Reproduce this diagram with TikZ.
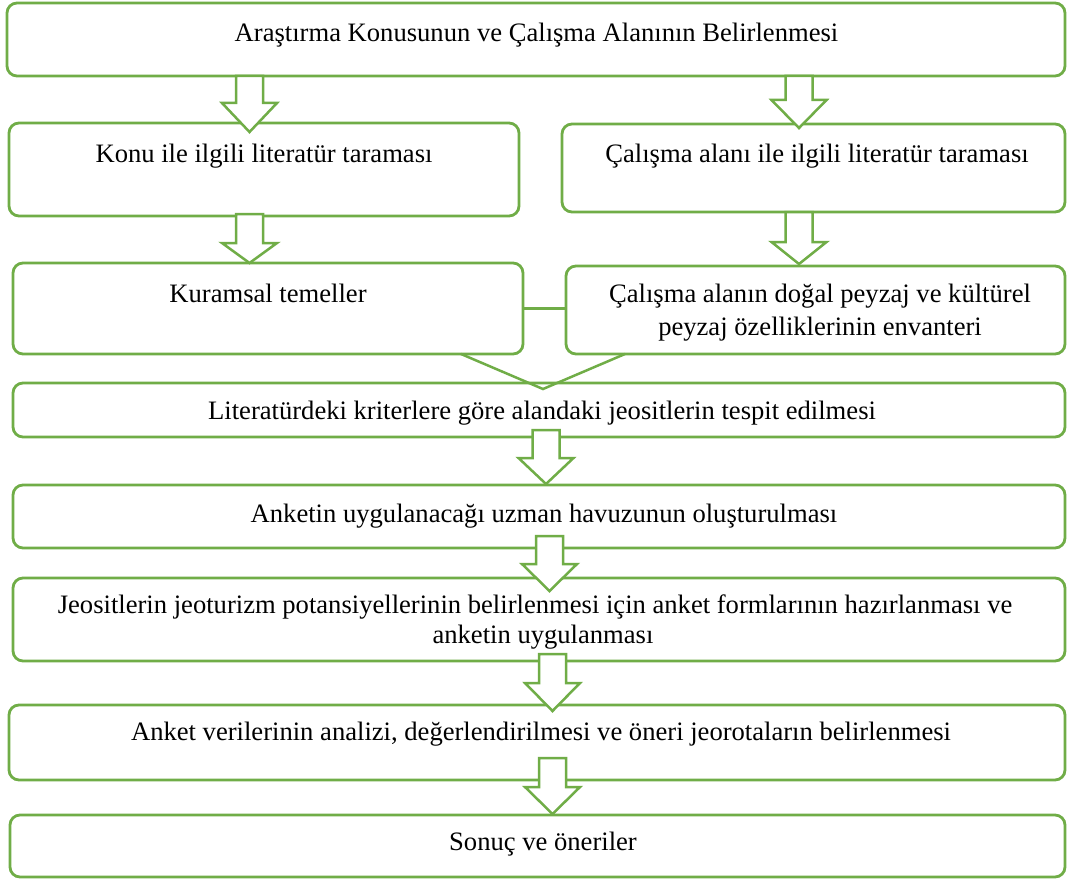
\documentclass[tikz,border=0pt]{standalone}
\usepackage{fontspec}
\setmainfont{Liberation Serif}
\usetikzlibrary{calc}
\definecolor{grn}{HTML}{70AD47}
\tikzset{
  box/.style={draw=grn, line width=2.8pt, rounded corners=10pt, fill=white, inner sep=0pt, outer sep=0pt},
  txt/.style={font=\fontsize{26.6}{33}\selectfont, anchor=base, inner sep=0pt},
  blk/.style={draw=grn, line width=2.5pt, fill=white, line join=miter},
  lnk/.style={draw=grn, line width=2.5pt},
}
\newcommand\blkarrow[4]{%
  \draw[blk] (#1-13.5,#2) -- (#1+13.5,#2) -- (#1+13.5,#3) -- (#1+27.5,#3)
    -- (#1,#4) -- (#1-27.5,#3) -- (#1-13.5,#3) -- cycle;}
\begin{document}
\begin{tikzpicture}[x=1pt,y=-1pt]
\useasboundingbox (0,0) rectangle (1068,880);
\fill[white] (0,0) rectangle (1068,880);
% boxes
\node[box, minimum width=1058, minimum height=73] (b1) at (536,39.5) {};
\node[box, minimum width=510, minimum height=93] (b2l) at (264,169.5) {};
\node[box, minimum width=503, minimum height=88] (b2r) at (813.5,168) {};
\node[box, minimum width=510, minimum height=91] (b3l) at (268,308.5) {};
\node[box, minimum width=499, minimum height=88] (b3r) at (815.5,310) {};
\node[box, minimum width=1052, minimum height=54] (b4) at (539,410) {};
\node[box, minimum width=1052, minimum height=63] (b5) at (539,516.5) {};
\node[box, minimum width=1052, minimum height=83] (b6) at (539,619.5) {};
\node[box, minimum width=1056, minimum height=75] (b7) at (537,742.5) {};
\node[box, minimum width=1055, minimum height=62] (b8) at (537.5,846) {};
% connectors
\draw[lnk] (b3l.east) -- (b3l.east -| b3r.west);
\coordinate (v1) at (461,354);
\coordinate (v2) at (625,354);
\coordinate (vt) at (543,389);
\draw[lnk, line join=miter] (v1) -- (vt) -- (v2);
% block arrows
\blkarrow{249.5}{76}{103}{132}
\blkarrow{799}{76}{100}{128}
\blkarrow{249.5}{214}{243}{263}
\blkarrow{799}{212}{242}{264}
\blkarrow{546}{430}{458}{484}
\blkarrow{549.5}{536}{564}{591}
\blkarrow{552.5}{654}{683}{711}
\blkarrow{552.5}{758}{787}{814}
% texts
\node[txt] (t1) at (536.5,42) {Araştırma Konusunun ve Çalışma Alanının Belirlenmesi};
\node[txt] (t2l) at (264,162) {Konu ile ilgili literatür taraması};
\node[txt] (t2r) at (817,162) {Çalışma alanı ile ilgili literatür taraması};
\node[txt] (t3l) at (268,302) {Kuramsal temeller};
\node[txt] (t3ra) at (820,302) {Çalışma alanın doğal peyzaj ve kültürel};
\node[txt] (t3rb) at (820,335) {peyzaj özelliklerinin envanteri};
\node[txt] (t4) at (542,419) {Literatürdeki kriterlere göre alandaki jeositlerin tespit edilmesi};
\node[txt] (t5) at (544,522) {Anketin uygulanacağı uzman havuzunun oluşturulması};
\node[txt] (t6a) at (535,613) {Jeositlerin jeoturizm potansiyellerinin belirlenmesi için anket formlarının hazırlanması ve};
\node[txt] (t6b) at (543,643) {anketin uygulanması};
\node[txt] (t7) at (541,740) {Anket verilerinin analizi, değerlendirilmesi ve öneri jeorotaların belirlenmesi};
\node[txt] (t8) at (543,850) {Sonuç ve öneriler};
\end{tikzpicture}
\end{document}
